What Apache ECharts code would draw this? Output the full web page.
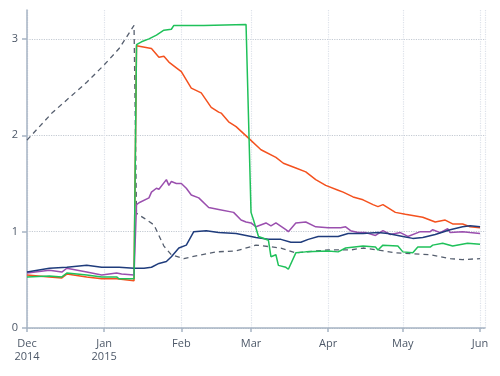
<!DOCTYPE html>
<html>
<head>
<meta charset="utf-8">
<script src="https://cdn.jsdelivr.net/npm/echarts@6/dist/echarts.min.js"></script>
<style>
  html, body { margin: 0; padding: 0; background: #fff; }
  #chart { width: 500px; height: 376px; }
</style>
</head>
<body>
<div id="chart"></div>
<script>
// 月份刻度
var monthTicks = ['2014-12', '2015-01', '2015-02', '2015-03', '2015-04', '2015-05', '2015-06'];
var monthLabels = ['Dec\n2014', 'Jan\n2015', 'Feb', 'Mar', 'Apr', 'May', 'Jun'];
var yTicks = [0, 1, 2, 3];

// 虚线
var dashedData = [
  ['2014-12-01', 1.95], ['2014-12-11', 2.23], ['2014-12-18', 2.39], ['2014-12-25', 2.55],
  ['2015-01-01', 2.73], ['2015-01-07', 2.90], ['2015-01-13', 3.14], ['2015-01-14', 1.19],
  ['2015-01-17', 1.14], ['2015-01-21', 1.07], ['2015-01-25', 0.85], ['2015-01-28', 0.76],
  ['2015-02-02', 0.72], ['2015-02-09', 0.76], ['2015-02-15', 0.79], ['2015-02-23', 0.80],
  ['2015-03-03', 0.86], ['2015-03-13', 0.83], ['2015-03-19', 0.78], ['2015-03-23', 0.79],
  ['2015-04-01', 0.81], ['2015-04-10', 0.81], ['2015-04-15', 0.83], ['2015-04-21', 0.81],
  ['2015-04-28', 0.78], ['2015-05-05', 0.77], ['2015-05-12', 0.76], ['2015-05-16', 0.74],
  ['2015-05-20', 0.72], ['2015-05-25', 0.71], ['2015-06-01', 0.72]
];

// 橙线
var orangeData = [
  ['2014-12-01', 0.55], ['2014-12-10', 0.53], ['2014-12-15', 0.52], ['2014-12-17', 0.56],
  ['2014-12-25', 0.53], ['2014-12-31', 0.51], ['2015-01-06', 0.51], ['2015-01-13', 0.49],
  ['2015-01-14', 2.93], ['2015-01-20', 2.90], ['2015-01-23', 2.81], ['2015-01-25', 2.82],
  ['2015-01-27', 2.76], ['2015-01-30', 2.70], ['2015-02-01', 2.66], ['2015-02-05', 2.49],
  ['2015-02-09', 2.44], ['2015-02-13', 2.29], ['2015-02-16', 2.24], ['2015-02-17', 2.23],
  ['2015-02-20', 2.14], ['2015-02-23', 2.09], ['2015-02-28', 1.97], ['2015-03-05', 1.85],
  ['2015-03-11', 1.77], ['2015-03-14', 1.71], ['2015-03-19', 1.66], ['2015-03-23', 1.62],
  ['2015-03-27', 1.54], ['2015-03-31', 1.48], ['2015-04-05', 1.43], ['2015-04-07', 1.41],
  ['2015-04-11', 1.36], ['2015-04-15', 1.33], ['2015-04-19', 1.28], ['2015-04-21', 1.26],
  ['2015-04-23', 1.28], ['2015-04-28', 1.20], ['2015-05-02', 1.18], ['2015-05-09', 1.15],
  ['2015-05-14', 1.10], ['2015-05-18', 1.12], ['2015-05-21', 1.08], ['2015-05-25', 1.08],
  ['2015-05-28', 1.05], ['2015-06-01', 1.04]
];

// 紫线
var purpleData = [
  ['2014-12-01', 0.57], ['2014-12-10', 0.60], ['2014-12-15', 0.58], ['2014-12-17', 0.62],
  ['2014-12-25', 0.58], ['2014-12-31', 0.55], ['2015-01-06', 0.57], ['2015-01-08', 0.56],
  ['2015-01-13', 0.55], ['2015-01-14', 1.28], ['2015-01-15', 1.30], ['2015-01-19', 1.35],
  ['2015-01-20', 1.41], ['2015-01-22', 1.45], ['2015-01-23', 1.44], ['2015-01-26', 1.54],
  ['2015-01-27', 1.48], ['2015-01-28', 1.52], ['2015-01-30', 1.50], ['2015-02-01', 1.50],
  ['2015-02-03', 1.45], ['2015-02-05', 1.38], ['2015-02-08', 1.35], ['2015-02-12', 1.25],
  ['2015-02-16', 1.23], ['2015-02-22', 1.20], ['2015-02-25', 1.12], ['2015-02-27', 1.10],
  ['2015-03-01', 1.09], ['2015-03-03', 1.05], ['2015-03-07', 1.09], ['2015-03-09', 1.06],
  ['2015-03-11', 1.09], ['2015-03-15', 1.02], ['2015-03-16', 1.00], ['2015-03-19', 1.09],
  ['2015-03-23', 1.10], ['2015-03-27', 1.05], ['2015-04-01', 1.04], ['2015-04-06', 1.04],
  ['2015-04-08', 1.05], ['2015-04-10', 1.01], ['2015-04-13', 0.99], ['2015-04-16', 0.99],
  ['2015-04-20', 0.96], ['2015-04-23', 1.01], ['2015-04-26', 0.97], ['2015-04-30', 0.99],
  ['2015-05-03', 0.95], ['2015-05-08', 1.00], ['2015-05-12', 1.00], ['2015-05-13', 1.02],
  ['2015-05-16', 0.99], ['2015-05-19', 1.03], ['2015-05-20', 0.99], ['2015-05-25', 1.00],
  ['2015-05-28', 0.99], ['2015-06-01', 0.98]
];

// 深蓝线
var navyData = [
  ['2014-12-01', 0.58], ['2014-12-10', 0.62], ['2014-12-17', 0.63], ['2014-12-25', 0.65],
  ['2014-12-31', 0.63], ['2015-01-07', 0.63], ['2015-01-13', 0.62], ['2015-01-17', 0.62],
  ['2015-01-20', 0.63], ['2015-01-23', 0.67], ['2015-01-26', 0.69], ['2015-01-28', 0.74],
  ['2015-01-31', 0.83], ['2015-02-03', 0.86], ['2015-02-06', 1.00], ['2015-02-11', 1.01],
  ['2015-02-16', 0.99], ['2015-02-23', 0.98], ['2015-02-27', 0.96], ['2015-03-03', 0.94],
  ['2015-03-08', 0.92], ['2015-03-13', 0.92], ['2015-03-17', 0.89], ['2015-03-21', 0.89],
  ['2015-03-24', 0.92], ['2015-03-28', 0.95], ['2015-04-05', 0.95], ['2015-04-09', 0.98],
  ['2015-04-15', 0.98], ['2015-04-21', 0.99], ['2015-04-25', 0.98], ['2015-05-01', 0.95],
  ['2015-05-05', 0.93], ['2015-05-09', 0.94], ['2015-05-14', 0.97], ['2015-05-20', 1.02],
  ['2015-05-25', 1.05], ['2015-05-28', 1.06], ['2015-06-01', 1.05]
];

// 绿线
var greenData = [
  ['2014-12-01', 0.53], ['2014-12-10', 0.54], ['2014-12-15', 0.53], ['2014-12-17', 0.57],
  ['2014-12-25', 0.55], ['2014-12-31', 0.53], ['2015-01-06', 0.53], ['2015-01-07', 0.51],
  ['2015-01-13', 0.51], ['2015-01-14', 2.94], ['2015-01-16', 2.97], ['2015-01-19', 3.00],
  ['2015-01-22', 3.04], ['2015-01-25', 3.09], ['2015-01-28', 3.10], ['2015-01-29', 3.14],
  ['2015-02-10', 3.14], ['2015-02-27', 3.15], ['2015-03-01', 1.20], ['2015-03-02', 1.12],
  ['2015-03-04', 0.95], ['2015-03-08', 0.91], ['2015-03-09', 0.74], ['2015-03-11', 0.76],
  ['2015-03-12', 0.65], ['2015-03-15', 0.63], ['2015-03-16', 0.61], ['2015-03-19', 0.78],
  ['2015-03-23', 0.79], ['2015-04-01', 0.80], ['2015-04-05', 0.79], ['2015-04-08', 0.83],
  ['2015-04-15', 0.85], ['2015-04-20', 0.84], ['2015-04-21', 0.81], ['2015-04-23', 0.86],
  ['2015-04-29', 0.85], ['2015-05-01', 0.79], ['2015-05-05', 0.78], ['2015-05-07', 0.84],
  ['2015-05-12', 0.84], ['2015-05-13', 0.86], ['2015-05-17', 0.88], ['2015-05-21', 0.85],
  ['2015-05-27', 0.88], ['2015-06-01', 0.87]
];

var monthKey = function (v) {
  var d = new Date(v);
  var m = d.getMonth() + 1;
  return d.getFullYear() + '-' + (m < 10 ? '0' + m : m);
};

var lineSeries = function (name, data, color, dashed) {
  return {
    name: name,
    type: 'line',
    data: data.map(function (p) { return [p[0] + 'T00:00:00', p[1]]; }),
    showSymbol: false,
    symbol: 'none',
    animation: false,
    lineStyle: { color: color, width: dashed ? 1.3 : 1.5, type: dashed ? [5, 4] : 'solid' },
    itemStyle: { color: color }
  };
};

var chart = echarts.init(document.getElementById('chart'));
chart.setOption({
  animation: false,
  grid: { left: 27, right: 15, top: 10, bottom: 48 },
  xAxis: {
    type: 'time',
    min: '2014-12-01T00:00:00',
    max: '2015-06-03T00:00:00',
    splitNumber: 6,
    axisLine: { lineStyle: { color: '#a7b4c4', width: 1.5 } },
    axisTick: { show: true, length: 4, lineStyle: { color: '#a7b4c4', width: 1.5 } },
    axisLabel: {
      margin: 9,
      color: '#4d5868',
      fontFamily: 'Open Sans',
      fontSize: 11,
      lineHeight: 13,
      hideOverlap: false,
      formatter: function (v) {
        var i = monthTicks.indexOf(monthKey(v));
        return i >= 0 ? monthLabels[i] : '';
      }
    },
    splitLine: { show: true, lineStyle: { color: '#dde2ea', type: 'dotted', width: 1.2 } }
  },
  yAxis: {
    type: 'value',
    min: 0,
    max: 3.3,
    interval: 1,
    axisLine: { show: true, lineStyle: { color: '#a7b4c4', width: 1.5 } },
    axisTick: { show: true, length: 5, customValues: yTicks, lineStyle: { color: '#a7b4c4', width: 1.5 } },
    axisLabel: {
      customValues: yTicks,
      margin: 9,
      color: '#4d5868',
      fontFamily: 'Open Sans',
      fontSize: 11
    },
    splitLine: { show: true, lineStyle: { color: '#c4cad3', type: 'dotted', width: 1.2 } }
  },
  series: [
    lineSeries('dashed', dashedData, '#565f6f', true),
    lineSeries('orange', orangeData, '#f4511e', false),
    lineSeries('purple', purpleData, '#9a4fae', false),
    lineSeries('navy', navyData, '#1f3c7c', false),
    lineSeries('green', greenData, '#1fc15a', false)
  ]
});
</script>
</body>
</html>
